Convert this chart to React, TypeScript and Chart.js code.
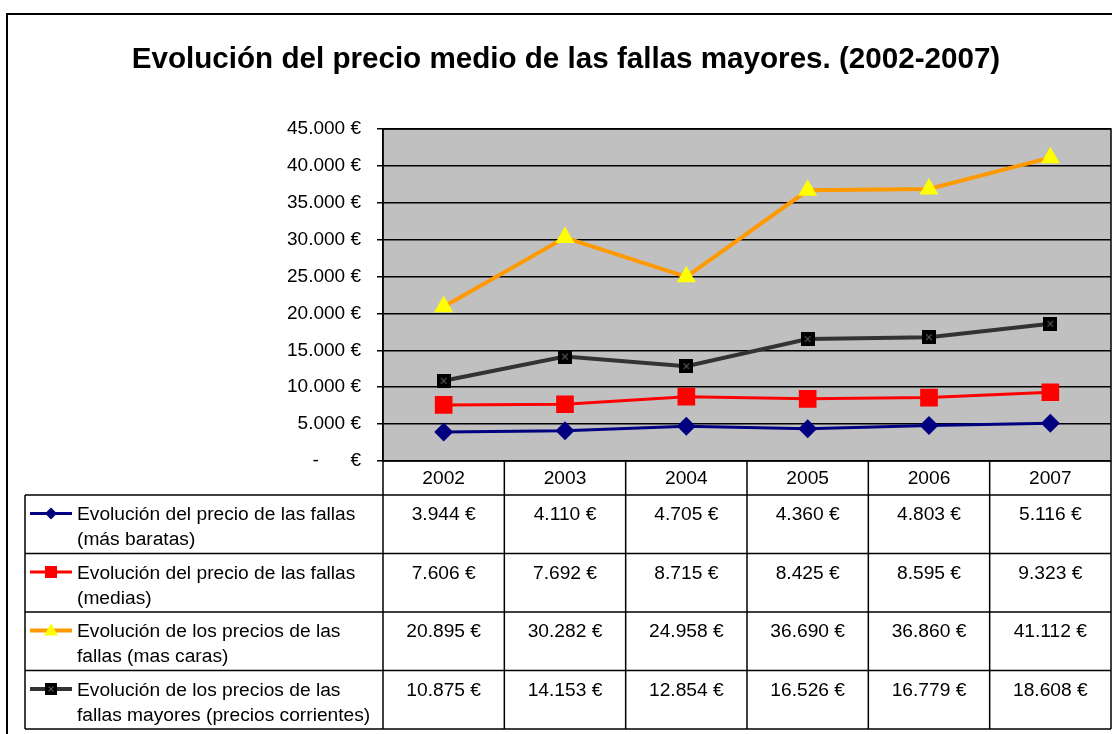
import React, { useEffect, useRef } from 'react';
import { Chart, registerables } from 'chart.js';

Chart.register(...registerables);

const TITLE = 'Evolución del precio medio de las fallas mayores. (2002-2007)';
const YEARS = ['2002', '2003', '2004', '2005', '2006', '2007'];
const BARATAS = [3944, 4110, 4705, 4360, 4803, 5116];
const MEDIAS = [7606, 7692, 8715, 8425, 8595, 9323];
const CARAS = [20895, 30282, 24958, 36690, 36860, 41112];
const MAYORES = [10875, 14153, 12854, 16526, 16779, 18608];
const SERIES_LABELS = [
  ['Evolución del precio de las fallas', '(más baratas)'],
  ['Evolución del precio de las fallas', '(medias)'],
  ['Evolución de los precios de las', 'fallas (mas caras)'],
  ['Evolución de los precios de las', 'fallas mayores (precios corrientes)'],
];
const Y_MIN = 0;
const Y_MAX = 45000;
const Y_STEP = 5000;

const FONT = '"Liberation Sans", Arial, sans-serif';

function fmt(v: number): string {
  if (v === 0) return '-      €';
  return String(v).replace(/\B(?=(\d{3})+(?!\d))/g, '.') + ' €';
}

function makeXMarker(size: number): HTMLCanvasElement {
  const img = document.createElement('canvas');
  img.width = size;
  img.height = size;
  const c = img.getContext('2d')!;
  c.fillStyle = '#000000';
  c.fillRect(0, 0, size, size);
  c.strokeStyle = '#5a5a5a';
  c.lineWidth = 1.2;
  const a = size * 0.3, b = size * 0.7;
  c.beginPath();
  c.moveTo(a, a); c.lineTo(b, b);
  c.moveTo(b, a); c.lineTo(a, b);
  c.stroke();
  return img;
}

export default function App() {
  const ref = useRef<HTMLCanvasElement | null>(null);

  useEffect(() => {
    const canvas = ref.current;
    if (!canvas) return;
    const xMarker = makeXMarker(14);
    const xMarkerSmall = makeXMarker(12);

    const styles = [
      { line: '#000080', fill: '#000080', kind: 'diamond', w: 3 },
      { line: '#FF0000', fill: '#FF0000', kind: 'square', w: 3 },
      { line: '#FF9900', fill: '#FFFF00', kind: 'triangle', w: 4 },
      { line: '#333333', fill: '#000000', kind: 'xsquare', w: 4 },
    ];
    const seriesData = [BARATAS, MEDIAS, CARAS, MAYORES];

    const drawMarker = (ctx: CanvasRenderingContext2D, kind: string, fill: string, x: number, y: number) => {
      ctx.fillStyle = fill;
      ctx.beginPath();
      if (kind === 'diamond') {
        const r = 6;
        ctx.moveTo(x, y - r); ctx.lineTo(x + r, y); ctx.lineTo(x, y + r); ctx.lineTo(x - r, y);
        ctx.closePath(); ctx.fill();
      } else if (kind === 'square') {
        ctx.rect(x - 6, y - 6, 12, 12); ctx.fill();
      } else if (kind === 'triangle') {
        ctx.moveTo(x, y - 7); ctx.lineTo(x + 7, y + 5); ctx.lineTo(x - 7, y + 5);
        ctx.closePath(); ctx.fill();
      } else {
        ctx.drawImage(xMarkerSmall, x - 6, y - 6, 12, 12);
      }
    };

    const decor = {
      id: 'decor',
      beforeDraw(chart: any) {
        const { ctx, chartArea: a } = chart;
        ctx.save();
        ctx.fillStyle = '#ffffff';
        ctx.fillRect(0, 0, chart.width, chart.height);
        ctx.strokeStyle = '#000000';
        ctx.lineWidth = 2;
        ctx.strokeRect(7, 14, chart.width + 20, chart.height + 20);
        ctx.fillStyle = '#C0C0C0';
        ctx.fillRect(a.left, a.top, a.right - a.left, a.bottom - a.top);
        ctx.restore();
      },
      afterDraw(chart: any) {
        const { ctx, chartArea: a } = chart;
        const xs = chart.scales.x;
        const half = (xs.getPixelForValue(1) - xs.getPixelForValue(0)) / 2;
        ctx.save();
        // plot border
        ctx.strokeStyle = '#000000';
        ctx.lineWidth = 1.5;
        ctx.strokeRect(a.left, a.top, a.right - a.left, a.bottom - a.top);

        // title
        ctx.fillStyle = '#000000';
        ctx.font = `bold 29.6px ${FONT}`;
        ctx.textAlign = 'center';
        ctx.textBaseline = 'alphabetic';
        ctx.fillText(TITLE, 566, 68);

        // data table
        const tableLeft = 25;
        const headTop = a.bottom;
        const headBottom = 495;
        const rowH = 58.5;
        const rows = seriesData.length;
        const tableBottom = headBottom + rowH * rows;
        ctx.lineWidth = 1.5;
        ctx.beginPath();
        for (let r = 0; r <= rows; r++) {
          const y = headBottom + rowH * r;
          ctx.moveTo(tableLeft, y); ctx.lineTo(a.right, y);
        }
        ctx.moveTo(tableLeft, headBottom); ctx.lineTo(tableLeft, tableBottom);
        for (let i = 0; i <= YEARS.length; i++) {
          const x = i < YEARS.length ? xs.getPixelForValue(i) - half : a.right;
          ctx.moveTo(x, headTop); ctx.lineTo(x, tableBottom);
        }
        ctx.stroke();

        ctx.font = `19.2px ${FONT}`;
        ctx.textAlign = 'center';
        YEARS.forEach((yr, i) => {
          ctx.fillText(yr, xs.getPixelForValue(i), headTop + 23);
        });
        seriesData.forEach((arr, r) => {
          const top = headBottom + rowH * r;
          arr.forEach((v, i) => {
            ctx.fillText(fmt(v), xs.getPixelForValue(i), top + 25);
          });
        });
        ctx.textAlign = 'left';
        seriesData.forEach((_, r) => {
          const top = headBottom + rowH * r;
          const st = styles[r];
          const ly = top + 18.5;
          ctx.strokeStyle = st.line;
          ctx.lineWidth = st.w;
          ctx.beginPath();
          ctx.moveTo(30, ly); ctx.lineTo(72, ly);
          ctx.stroke();
          drawMarker(ctx, st.kind, st.fill, 51, ly);
          ctx.fillStyle = '#000000';
          ctx.fillText(SERIES_LABELS[r][0], 77, top + 25);
          ctx.fillText(SERIES_LABELS[r][1], 77, top + 50);
        });
        ctx.restore();
      },
    };

    const chart = new Chart(canvas, {
      type: 'line',
      data: {
        labels: YEARS,
        datasets: [
          {
            label: SERIES_LABELS[0].join(' '),
            data: BARATAS,
            borderColor: '#000080',
            backgroundColor: '#000080',
            borderWidth: 3,
            pointStyle: 'rectRot',
            pointRadius: 9.5,
            pointBorderWidth: 0,
            pointBackgroundColor: '#000080',
          },
          {
            label: SERIES_LABELS[1].join(' '),
            data: MEDIAS,
            borderColor: '#FF0000',
            backgroundColor: '#FF0000',
            borderWidth: 3,
            pointStyle: 'rect',
            pointRadius: 12.5,
            pointBorderWidth: 0,
            pointBackgroundColor: '#FF0000',
          },
          {
            label: SERIES_LABELS[2].join(' '),
            data: CARAS,
            borderColor: '#FF9900',
            backgroundColor: '#FFFF00',
            borderWidth: 4,
            pointStyle: 'triangle',
            pointRadius: 11,
            pointBorderWidth: 0,
            pointBackgroundColor: '#FFFF00',
          },
          {
            label: SERIES_LABELS[3].join(' '),
            data: MAYORES,
            borderColor: '#333333',
            backgroundColor: '#000000',
            borderWidth: 4,
            pointStyle: xMarker as any,
            pointRadius: 7,
            pointBorderWidth: 0,
          },
        ],
      },
      options: {
        animation: false,
        responsive: false,
        devicePixelRatio: 1,
        events: [],
        layout: { autoPadding: false, padding: { left: 0, right: 1, top: 129, bottom: 273 } },
        elements: { line: { tension: 0 }, point: { hoverRadius: 0 } },
        plugins: {
          legend: { display: false },
          title: { display: false },
          tooltip: { enabled: false },
        },
        scales: {
          x: {
            type: 'category',
            display: false,
            offset: true,
          },
          y: {
            min: Y_MIN,
            max: Y_MAX,
            afterFit: (s: any) => { s.width = 383; },
            border: { display: true, color: '#000000', width: 1.5 },
            grid: {
              color: '#000000',
              lineWidth: 1.5,
              drawTicks: true,
              tickLength: 6,
              tickColor: '#000000',
            },
            ticks: {
              stepSize: Y_STEP,
              padding: 16,
              color: '#000000',
              font: { family: FONT, size: 19 },
              callback: (v: any) => fmt(Number(v)),
            },
          },
        },
      },
      plugins: [decor],
    } as any);

    return () => chart.destroy();
  }, []);

  return (
    <div style={{ position: 'fixed', left: 0, top: 0, width: 1112, height: 734, overflow: 'hidden', background: '#fff' }}>
      <canvas ref={ref} width={1112} height={734} style={{ display: 'block', width: 1112, height: 734 }} />
    </div>
  );
}
